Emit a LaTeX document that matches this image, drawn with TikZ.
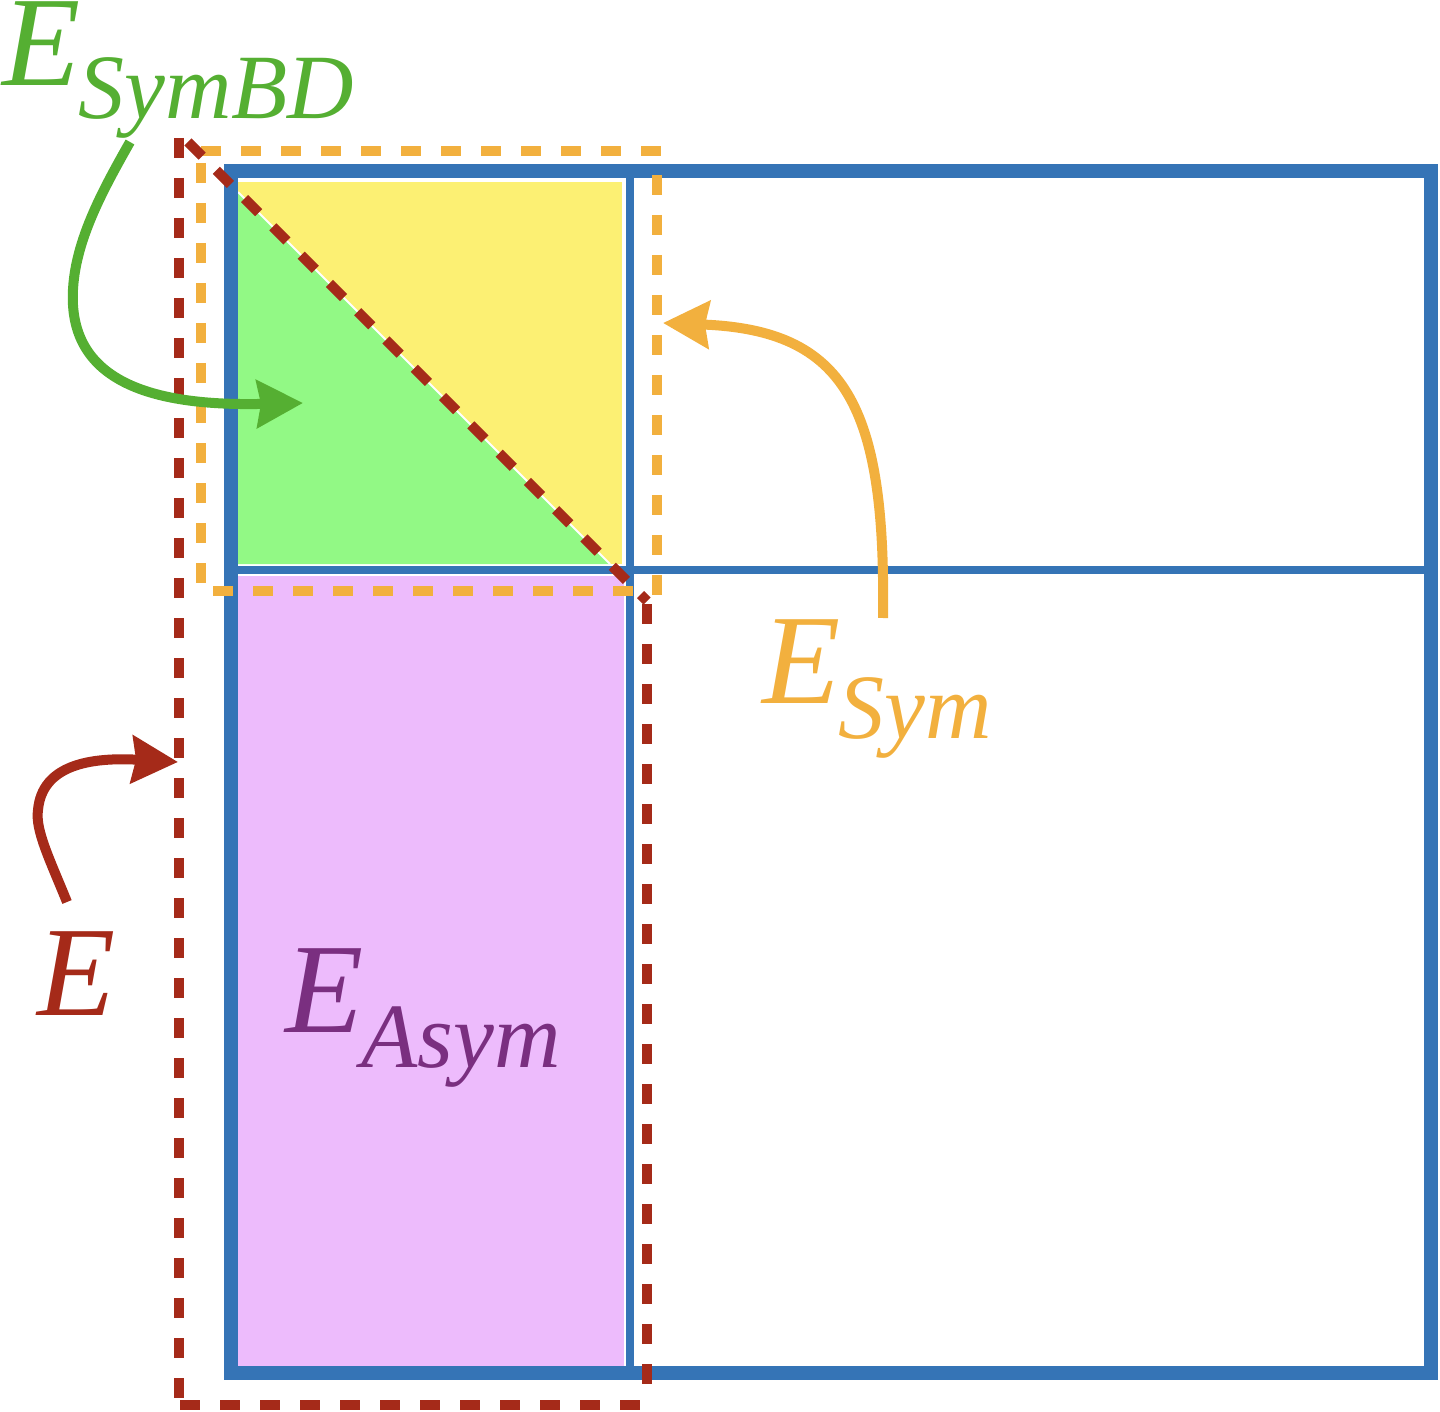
\documentclass[tikz,border=0pt]{standalone}
\usepackage{fontspec}
\setmainfont{Liberation Serif}
\usetikzlibrary{arrows.meta}
\definecolor{cblue}{HTML}{3574B6}
\definecolor{cgreenfill}{HTML}{92F985}
\definecolor{cyellow}{HTML}{FCF073}
\definecolor{cpink}{HTML}{EDBBFC}
\definecolor{cred}{HTML}{A52A19}
\definecolor{corange}{HTML}{F2B03E}
\definecolor{cgreen}{HTML}{55AF32}
\definecolor{cpurple}{HTML}{7A2F80}
\newcommand{\labsub}[2][35pt]{\kern-2pt\raisebox{-#1}{\fontsize{92}{92}\selectfont\itshape #2}}
\begin{document}
\begin{tikzpicture}[x=1pt,y=-1pt,
  reddash/.style={draw=cred, line width=10pt, dash pattern=on 20pt off 20pt},
  orangedash/.style={draw=corange, line width=10pt, dash pattern=on 20pt off 20pt},
  frameline/.style={draw=cblue, line width=14pt},
  gridline/.style={draw=cblue, line width=8pt},
  arr/.style={line width=10pt, -{Stealth[length=46pt,width=47pt,inset=4pt]}},
  lab/.style={anchor=base west, inner sep=0pt, font=\fontsize{128}{128}\selectfont\itshape}]
\useasboundingbox (0,0) rectangle (1440,1412);
% fills
\fill[cyellow] (238,182) rectangle (622,564);
\fill[cgreenfill] (238,192) -- (238,564) -- (610,564) -- cycle;
\draw[white, line width=2pt] (238,192) -- (610,564);
\fill[cpink] (238,576) rectangle (624,1366);
% blue matrix frame
\draw[frameline] (231,171) rectangle (1431,1373);
\draw[gridline] (630,171) -- (630,1373);
\draw[gridline] (231,570) -- (1431,570);
% orange dashed box (E_Sym)
\draw[orangedash] (201,151) -- (661,151);
\draw[orangedash] (657,175) -- (657,595);
\draw[orangedash] (201,163) -- (201,583);
\draw[orangedash] (213,591) -- (633,591);
% red dashed outline (E)
\draw[reddash] (179,138) -- (179,1400);
\draw[reddash] (180,1405) -- (640,1405);
\draw[reddash] (647,604) -- (647,1390);
\draw[reddash] (188,142) -- (647,601);
% labels
\node[lab, text=cgreen] (lsymbd) at (2,86) {E\labsub[33pt]{SymBD}};
\node[lab, text=corange] (lsym) at (762,703) {E\labsub{Sym}};
\node[lab, text=cpurple] (lasym) at (285,1032) {E\labsub{Asym}};
\node[lab, text=cred] (le) at (37,1015) {E};
% arrows
\coordinate (gs) at (130,142);
\coordinate (gm) at (73,305);
\coordinate (gt) at (303,403);
\draw[arr, cgreen] (gs) .. controls (100,195) and (70,250) .. (gm) .. controls (78,390) and (170,406) .. (gt);
\coordinate (os) at (883,618);
\coordinate (ot) at (663,323);
\draw[arr, corange] (os) .. controls (886,405) and (845,330) .. (ot);
\coordinate (rs) at (67,902);
\coordinate (rm) at (38,810);
\coordinate (rt) at (178,762);
\draw[arr, cred] (rs) .. controls (50,860) and (35,830) .. (rm) .. controls (42,765) and (90,757) .. (rt);
\end{tikzpicture}
\end{document}
